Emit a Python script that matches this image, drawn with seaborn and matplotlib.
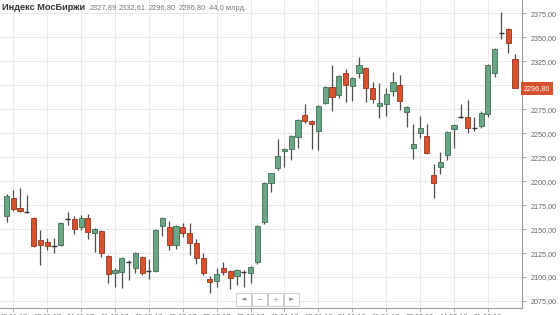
import numpy as np
import pandas as pd
import seaborn as sns
import matplotlib
matplotlib.use("Agg")
import matplotlib.pyplot as plt
from matplotlib.patches import Rectangle
from matplotlib.transforms import blended_transform_factory

# ---------------- data ----------------
opens = [2163.6, 2182.4, 2172.0, 2168.0, 2161.5, 2138.6, 2136.5, 2132.0, 2133.4, 2160.2,
         2160.5, 2152.1, 2161.5, 2145.9, 2148.0, 2121.9, 2104.2, 2105.2, 2115.8, 2109.4,
         2120.9, 2106.5, 2106.3, 2153.2, 2152.2, 2133.4, 2152.2, 2145.9, 2135.5, 2119.8,
         2097.9, 2095.8, 2109.4, 2106.3, 2101.1, 2105.0, 2104.2, 2115.6, 2157.4, 2198.0,
         2213.7, 2231.4, 2233.5, 2246.0, 2268.9, 2262.7, 2252.3, 2281.4, 2298.1, 2289.8,
         2312.7, 2299.2, 2312.7, 2318.0, 2297.1, 2278.3, 2280.4, 2294.0, 2300.2, 2272.1,
         2234.5, 2250.2, 2247.1, 2206.4, 2214.7, 2227.2, 2254.4, 2267.4, 2266.9, 2255.6,
         2257.5, 2270.0, 2312.7, 2354.6, 2358.6, 2327.89]
highs = [2186.6, 2190.7, 2192.8, 2185.5, 2162.5, 2149.0, 2140.7, 2140.7, 2157.0, 2167.8,
         2163.6, 2164.7, 2165.7, 2151.0, 2149.0, 2123.0, 2109.4, 2121.0, 2117.7, 2126.0,
         2122.0, 2118.8, 2150.0, 2162.5, 2158.4, 2154.0, 2156.3, 2156.3, 2139.6, 2125.0,
         2101.1, 2109.4, 2115.7, 2107.0, 2108.0, 2107.0, 2111.0, 2154.0, 2199.0, 2209.0,
         2243.9, 2235.0, 2248.0, 2265.0, 2280.4, 2264.0, 2279.0, 2299.0, 2321.4, 2311.0,
         2316.9, 2308.5, 2329.4, 2319.0, 2303.4, 2302.3, 2297.1, 2313.8, 2310.7, 2278.0,
         2259.6, 2267.9, 2259.6, 2217.8, 2230.4, 2252.0, 2259.5, 2280.4, 2284.5, 2266.9,
         2273.1, 2322.0, 2338.5, 2376.4, 2359.5, 2332.61]
lows = [2157.4, 2168.8, 2167.8, 2166.7, 2131.0, 2112.5, 2128.2, 2125.0, 2132.0, 2154.2,
        2144.8, 2149.0, 2139.6, 2126.1, 2120.9, 2093.8, 2089.6, 2088.5, 2096.8, 2104.2,
        2102.1, 2097.9, 2105.0, 2142.8, 2128.2, 2129.2, 2141.7, 2123.0, 2113.6, 2102.1,
        2083.3, 2089.6, 2102.1, 2087.5, 2091.7, 2089.6, 2093.8, 2114.0, 2155.3, 2188.7,
        2212.0, 2214.7, 2222.0, 2234.5, 2260.6, 2233.5, 2232.5, 2280.0, 2273.1, 2286.7,
        2282.5, 2283.5, 2307.5, 2282.5, 2281.5, 2265.8, 2267.9, 2288.8, 2274.2, 2256.4,
        2223.1, 2245.0, 2228.0, 2182.4, 2207.4, 2222.0, 2234.5, 2266.0, 2250.2, 2252.3,
        2255.4, 2266.9, 2308.6, 2348.2, 2333.6, 2296.80]
closes = [2184.5, 2170.9, 2168.8, 2168.0, 2132.3, 2133.4, 2132.3, 2132.0, 2156.3, 2160.2,
          2150.1, 2161.5, 2147.0, 2150.1, 2125.0, 2103.1, 2107.3, 2119.8, 2115.8, 2125.0,
          2104.2, 2106.5, 2149.1, 2161.5, 2133.4, 2153.2, 2145.9, 2135.5, 2119.8, 2104.2,
          2094.8, 2103.1, 2105.2, 2099.0, 2107.3, 2105.0, 2110.4, 2153.2, 2198.0, 2208.5,
          2226.2, 2233.5, 2247.1, 2263.7, 2262.7, 2259.6, 2278.3, 2298.1, 2287.7, 2309.6,
          2300.2, 2307.5, 2321.1, 2297.1, 2285.6, 2281.4, 2290.8, 2303.4, 2283.5, 2277.3,
          2238.7, 2255.4, 2229.3, 2198.0, 2219.9, 2251.2, 2258.6, 2267.4, 2255.4, 2255.6,
          2271.0, 2321.1, 2337.8, 2354.6, 2344.0, 2296.80]

date_labels = ["10.11.17", "17.11.17", "24.11.17", "01.12.17", "08.12.17", "15.12.17",
               "22.12.17", "29.12.17", "10.01.18", "17.01.18", "24.01.18", "31.01.18",
               "07.02.18", "14.02.18", "21.02.18"]
date_label_idx = [1, 6, 11, 16, 21, 26, 31, 36, 41, 46, 51, 56, 61, 66, 71]
y_ticks = [2075, 2100, 2125, 2150, 2175, 2200, 2225, 2250, 2275, 2300, 2325, 2350, 2375]

title = "Индекс МосБиржи"
header_values = ["2327,89", "2332,61", "2296,80", "2296,80", "44,0 млрд."]
last_price = closes[-1]

df = pd.DataFrame({"idx": np.arange(len(opens)), "open": opens, "high": highs,
                   "low": lows, "close": closes})

# ---------------- style ----------------
sns.set_theme(style="white")
plt.rcParams['font.family'] = ['Liberation Sans', 'DejaVu Sans']

W, H = 560, 315
fig = plt.figure(figsize=(5.6, 3.15), dpi=100)
ax = fig.add_axes([0, (H - 308) / H, 522 / W, 308 / H])

GREEN, GREEN_E = "#6aa585", "#3f6e55"
RED, RED_E = "#d6522f", "#9a3520"
WICK = "#4d4d4d"

up = df[df.close > df.open]
dn = df[df.close < df.open]
dj = df[df.close == df.open]

ax.vlines(df.idx, df.low, df.high, color=WICK, lw=0.9, zorder=2)
bw = 0.76
ax.bar(up.idx, up.close - up.open, bottom=up.open, width=bw, color=GREEN,
       edgecolor=GREEN_E, linewidth=0.6, zorder=3)
ax.bar(dn.idx, dn.open - dn.close, bottom=dn.close, width=bw, color=RED,
       edgecolor=RED_E, linewidth=0.6, zorder=3)
ax.hlines(dj.open, dj.idx - bw / 2, dj.idx + bw / 2, color="#333333", lw=1.0, zorder=3)

ax.set_xlim(-0.96, 76.03)
ax.set_ylim(2067.7, 2388.9)

ax.yaxis.tick_right()
ax.set_yticks(y_ticks)
# the 2300 label is hidden behind the last-price tag in the reference
ax.set_yticklabels(["" if abs(v - last_price) < 12 else f"{v:.2f}".replace(".", ",")
                    for v in y_ticks])
ax.set_xticks(date_label_idx)
ax.set_xticklabels(date_labels)
ax.tick_params(axis="y", which="both", right=True, length=3, width=0.6, color="#999999",
               labelsize=5.2, labelcolor="#666666", pad=3)
ax.tick_params(axis="x", which="both", bottom=True, length=3, width=0.6, color="#aaaaaa",
               labelsize=5.2, labelcolor="#666666", pad=1)
ax.grid(True, color="#e9e9e9", lw=0.7)
ax.set_axisbelow(True)
for s in ["left", "top"]:
    ax.spines[s].set_visible(False)
for s in ["right", "bottom"]:
    ax.spines[s].set_visible(True)
    ax.spines[s].set_color("#9a9a9a")
    ax.spines[s].set_linewidth(0.8)

# last price tag
tr = blended_transform_factory(ax.transAxes, ax.transData)
ax.text(1.004, last_price, f"{last_price:.2f}".replace(".", ","), transform=tr,
        ha="left", va="center", fontsize=5.2, color="white", clip_on=False, zorder=5,
        bbox=dict(boxstyle="square,pad=0.4", fc="#d6522f", ec="none"))

# header
fig.text(2 / W, 1 - 8 / H, title, fontsize=6.6, fontweight="bold", color="#333333",
         ha="left", va="center")
hx = [90, 119, 149, 179, 209]
for x, t in zip(hx, header_values):
    fig.text(x / W, 1 - 8 / H, t, fontsize=5.4, color="#777777", ha="left", va="center")

# navigation buttons
btn_syms = ["◄", "−", "+", "►"]
for i, s in enumerate(btn_syms):
    x0 = 236 + i * 16
    fig.add_artist(Rectangle((x0 / W, (H - 306) / H), 15 / W, 13 / H,
                             transform=fig.transFigure, fc="white", ec="#cccccc", lw=0.7))
    fig.text((x0 + 7.5) / W, (H - 299.5) / H, s, fontsize=5, color="#999999",
             ha="center", va="center", family=["DejaVu Sans"])

fig.savefig("out.png", dpi=100, facecolor="white")
